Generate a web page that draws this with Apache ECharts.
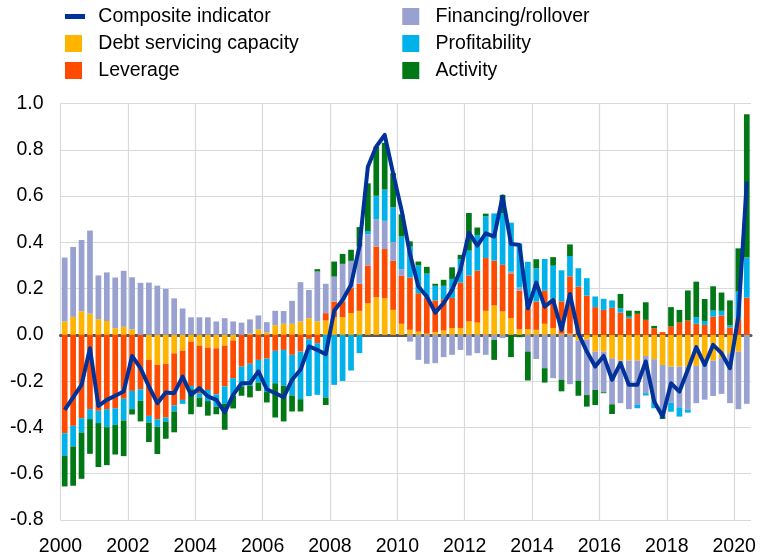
<!DOCTYPE html>
<html><head><meta charset="utf-8">
<script src="https://cdn.jsdelivr.net/npm/echarts@6/dist/echarts.min.js"></script>
<style>html,body{margin:0;padding:0;background:#fff}#c{width:761px;height:554px}</style>
</head><body><div id="c"></div>
<script>
// Quarterly categories 2000Q1 .. 2020Q2
const quarters = [];
for (let y = 2000; y <= 2020; y++) for (let q = 1; q <= 4; q++) { if (y === 2020 && q > 2) break; quarters.push(y + 'Q' + q); }
const yearTicks = [2000, 2002, 2004, 2006, 2008, 2010, 2012, 2014, 2016, 2018, 2020];

const debtServicing = [
0.058,0.078,0.102,0.092, 0.068,0.06,0.029,0.035, 0.024,0,-0.108,-0.13, -0.125,-0.08,-0.068,-0.029,
-0.046,-0.055,-0.058,-0.046, -0.024,0,0.005,0.024, 0.01,0.042,0.048,0.048, 0.058,0.072,0.058,0.062,
0.076,0.076,0.094,0.104, 0.137,0.163,0.158,0.108, 0.048,0.022,0.014,0.005, 0.012,0.019,0.029,0.029,
0.058,0.053,0.104,0.127, 0.101,0.072,0.024,0.024, 0.022,0.048,0.029,0.005, 0.005,-0.024,-0.02,-0.072,
-0.072,-0.101,-0.111,-0.111, -0.111,-0.091,-0.105,-0.13, -0.137,-0.137,-0.137,-0.134, -0.122,-0.111,-0.101,-0.079,
-0.072,0];
const leverage = [
-0.425,-0.393,-0.36,-0.321, -0.328,-0.321,-0.317,-0.276, -0.242,-0.235,-0.242,-0.235, -0.232,-0.225,-0.213,-0.192,
-0.206,-0.183,-0.199,-0.177, -0.163,-0.137,-0.125,-0.108, -0.102,-0.069,-0.065,-0.086, -0.072,-0.019,-0.036,0.032,
0.068,0.068,0.108,0.117, 0.163,0.219,0.213,0.212, 0.207,0.226,0.166,0.156, 0.137,0.135,0.131,0.197,
0.199,0.225,0.228,0.194, 0.202,0.194,0.167,0.095, 0.122,0.143,0.127,0.14, 0.248,0.209,0.17,0.12,
0.108,0.117,0.096,0.072, 0.091,0.065,0.029,0.012, 0.036,0.053,0.062,0.048, 0.043,0.079,0.084,0.032,
0.072,0.161];
const financingRollover = [
0.276,0.302,0.308,0.359, 0.189,0.21,0.219,0.242, 0.225,0.225,0.226,0.213, 0.199,0.158,0.114,0.076,
0.076,0.076,0.058,0.072, 0.058,0.053,0.062,0.06, 0.045,0.062,0.055,0.099, 0.17,0.122,0.216,0.127,
0.108,0.163,0.118,0.161, 0.135,0.118,0.122,0.081, 0.029,-0.029,-0.108,-0.125, -0.122,-0.096,-0.086,-0.065,
-0.089,-0.079,-0.086,-0.022, -0.014,0.007,0.014,-0.072, -0.104,-0.144,-0.187,-0.194, -0.213,-0.174,-0.24,-0.166,
-0.176,-0.199,-0.184,-0.21, -0.192,-0.161,-0.183,-0.223, -0.156,-0.176,-0.187,-0.161, -0.158,-0.153,-0.154,-0.216,
-0.249,-0.298];
const profitability = [
-0.098,-0.089,-0.062,-0.043, -0.053,-0.078,-0.072,-0.094, -0.079,-0.05,-0.029,-0.032, -0.017,-0.026,-0.017,-0.014,
-0.019,-0.048,-0.053,-0.075, -0.076,-0.086,-0.095,-0.098, -0.145,-0.14,-0.155,-0.176, -0.206,-0.245,-0.223,-0.271,
-0.216,-0.199,-0.154,-0.079, 0.014,0.101,0.135,0.151, 0.141,0.134,0.12,0.104, 0.063,0.058,0.082,0.101,
0.107,0.154,0.18,0.204, 0.223,0.212,0.19,0.197, 0.144,0.137,0.143,0.134, 0.088,0.079,0.075,0.046,
0.048,0.032,0.019,0.007, -0.014,-0.01,-0.029,0, -0.039,-0.04,-0.012,0.029, 0.017,0.026,0.02,0.009,
0.115,0.173];
const activity = [
-0.132,-0.17,-0.2,-0.15, -0.19,-0.164,-0.128,-0.154, -0.023,-0.089,-0.084,-0.118, -0.075,-0.09,0,-0.108,
-0.04,-0.063,-0.033,-0.112, -0.055,-0.04,-0.05,-0.036, -0.045,-0.148,-0.154,-0.069, -0.053,0,0.01,-0.032,
0.065,0.043,0.048,0.084, 0.206,0.213,0.202,0.147, 0.096,0.022,0.017,0.029, 0.009,0.026,0.05,0.019,
0.163,0.032,0.012,-0.086, 0.079,-0.096,-0.01,-0.125, 0.039,-0.062,0.037,-0.05, 0.05,-0.065,-0.05,-0.065,
-0.004,-0.042,0.062,0.026, 0.013,0.076,0.01,-0.01, 0.084,0.055,0.13,0.153, 0.095,0.105,0.079,0.108,
0.187,0.62];
const composite = [
-0.324,-0.27,-0.216,-0.058, -0.307,-0.281,-0.263,-0.245, -0.091,-0.144,-0.223,-0.295, -0.249,-0.252,-0.18,-0.259,
-0.23,-0.266,-0.281,-0.335, -0.259,-0.209,-0.209,-0.158, -0.235,-0.252,-0.269,-0.194, -0.151,-0.05,-0.065,-0.084,
0.104,0.151,0.216,0.382, 0.727,0.814,0.864,0.698, 0.54,0.35,0.209,0.166, 0.096,0.137,0.194,0.281,
0.442,0.386,0.439,0.425, 0.598,0.393,0.389,0.115, 0.226,0.122,0.151,0.022, 0.177,0.007,-0.072,-0.137,
-0.091,-0.194,-0.122,-0.216, -0.216,-0.115,-0.288,-0.353, -0.209,-0.245,-0.151,-0.053, -0.13,-0.043,-0.079,-0.144,
0.08,0.662];

const FONT = 'Liberation Sans, Arial, sans-serif';
const chart = echarts.init(document.getElementById('c'), null, {renderer: 'canvas'});
const barSeries = (name, data, color) => ({
  name, type: 'bar', stack: 'total', data, barWidth: 5.7,
  xAxisIndex: 0, yAxisIndex: 0,
  itemStyle: {color}, emphasis: {disabled: true}
});
// legend icons: square (left-aligned in a 20x17 box) and thick line
const sq = 'path://M0,0H17V17H0Z M19.95,0H20V0.05H19.95Z';
const ln = 'path://M0,6H20V11H0Z M0,0H0.05V0.05H0Z M0,16.95H0.05V17H0Z';
const legendCommon = {
  orient: 'vertical', itemWidth: 20, itemHeight: 17, itemGap: 7, top: 6.5, padding: 0,
  textStyle: {fontFamily: FONT, fontSize: 19.5, color: '#000', padding: [0, 0, 0, 8.3]},
  selectedMode: false, symbolKeepAspect: true
};
chart.setOption({
  animation: false,
  backgroundColor: '#fff',
  textStyle: {fontFamily: FONT},
  legend: [
    Object.assign({}, legendCommon, {left: 65, data: [
      {name: 'Composite indicator', icon: ln},
      {name: 'Debt servicing capacity', icon: sq},
      {name: 'Leverage', icon: sq}]}),
    Object.assign({}, legendCommon, {left: 402.3, data: [
      {name: 'Financing/rollover', icon: sq},
      {name: 'Profitability', icon: sq},
      {name: 'Activity', icon: sq}]})
  ],
  grid: {left: 60.5, right: 10, top: 103.5, bottom: 34, containLabel: false, outerBoundsMode: 'none'},
  xAxis: [
    {type: 'category', data: quarters, boundaryGap: true, position: 'bottom',
     axisLine: {show: true, onZero: true, lineStyle: {color: '#595959', width: 3}},
     axisTick: {show: false}, axisLabel: {show: false}, splitLine: {show: false}},
    {type: 'value', min: 2000, max: 2020.5, interval: 2, position: 'bottom',
     axisLine: {show: false}, axisTick: {show: false},
     splitLine: {show: true, showMaxLine: false, lineStyle: {color: '#d9d9d9', width: 1.2}},
     axisLabel: {fontSize: 19.5, color: '#000', margin: 17, fontFamily: FONT, showMaxLabel: false,
       formatter: v => (yearTicks.indexOf(v) >= 0 ? String(v) : '')}}
  ],
  yAxis: {type: 'value', min: -0.8, max: 1.0, interval: 0.2,
    axisLine: {show: false}, axisTick: {show: false},
    splitLine: {show: true, lineStyle: {color: '#d9d9d9', width: 1.2}},
    axisLabel: {fontSize: 19.5, color: '#000', margin: 17, fontFamily: FONT,
      formatter: v => v.toFixed(1)}},
  series: [
    barSeries('Debt servicing capacity', debtServicing, '#FFB400'),
    barSeries('Leverage', leverage, '#FF4B00'),
    barSeries('Financing/rollover', financingRollover, '#98A1D0'),
    barSeries('Profitability', profitability, '#00B1EA'),
    barSeries('Activity', activity, '#007816'),
    {name: 'Composite indicator', type: 'line', data: composite, xAxisIndex: 0, yAxisIndex: 0,
     showSymbol: false, symbol: 'none', z: 5,
     lineStyle: {color: '#003299', width: 4, join: 'round'}, itemStyle: {color: '#003299'},
     emphasis: {disabled: true}}
  ]
});
</script></body></html>
